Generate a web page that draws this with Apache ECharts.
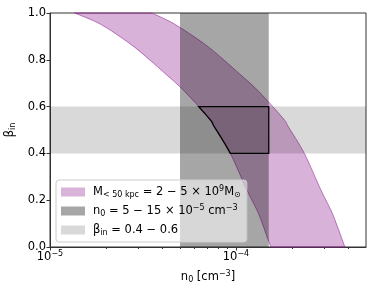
<!DOCTYPE html>
<html><head><meta charset="utf-8">
<script src="https://cdn.jsdelivr.net/npm/echarts@6/dist/echarts.min.js"></script>
<style>html,body{margin:0;padding:0;background:#fff}#c{width:374px;height:290px}</style>
</head><body><div id="c"></div>
<script>
// Lower-mass (2e9) constraint curve: beta_in vs n0
const betaLow = [1.0, 0.952, 0.869, 0.798, 0.738, 0.684, 0.620, 0.6, 0.541, 0.513, 0.4, 0.249, 0.157, 0.114, 0.0];
const nLow = [1.355e-5, 1.87e-5, 2.69e-5, 3.456e-5, 4.204e-5, 5.012e-5, 5.984e-5, 6.304e-5, 7.316e-5, 7.66e-5, 9.318e-5, 1.136e-4, 1.297e-4, 1.365e-4, 1.539e-4];
// Higher-mass (5e9) constraint curve
const betaHigh = [1.0, 0.952, 0.869, 0.798, 0.738, 0.684, 0.620, 0.6, 0.541, 0.513, 0.4, 0.249, 0.157, 0.114, 0.0];
const nHigh = [3.53e-5, 4.68e-5, 6.73e-5, 8.64e-5, 1.051e-4, 1.253e-4, 1.496e-4, 1.576e-4, 1.829e-4, 1.915e-4, 2.33e-4, 2.84e-4, 3.24e-4, 3.41e-4, 3.85e-4];
// Bands
const nBand = [5e-5, 1.5e-4];
const betaBand = [0.4, 0.6];
// Axes
const xRange = [1e-5, 5e-4];
const yRange = [0, 1];
const xMajorTicks = [1e-5, 1e-4];
const xMinorTicks = [2e-5, 3e-5, 4e-5, 5e-5, 6e-5, 7e-5, 8e-5, 9e-5, 2e-4, 3e-4, 4e-4];
const yTicks = [0, 0.2, 0.4, 0.6, 0.8, 1.0];

const FONT = 'DejaVu Sans';
const FS = 11.5;
const legendText = {
  mass: 'M{sub|< 50 kpc} = 2 − 5 × 10{sup|9}M{sub|⊙}',
  dens: 'n{sub|0} = 5 − 15 × 10{sup|−5} cm{sup|−3}',
  beta: 'β{sub|in} = 0.4 − 0.6'
};
const rich = {
  sub: {fontSize: 8, lineHeight: 8, verticalAlign: 'bottom', fontFamily: FONT, color: '#000'},
  sup: {fontSize: 8, lineHeight: 8, verticalAlign: 'top', fontFamily: FONT, color: '#000'}
};

// Smooth path helpers (Catmull-Rom -> cubic Bezier) in pixel space
function bezSegs(px) {
  const segs = [];
  for (let i = 0; i < px.length - 1; i++) {
    const p0 = px[Math.max(i - 1, 0)], p1 = px[i], p2 = px[i + 1], p3 = px[Math.min(i + 2, px.length - 1)];
    segs.push([p1, [p1[0] + (p2[0] - p0[0]) / 6, p1[1] + (p2[1] - p0[1]) / 6],
                   [p2[0] - (p3[0] - p1[0]) / 6, p2[1] - (p3[1] - p1[1]) / 6], p2]);
  }
  return segs;
}
const f = v => v.toFixed(2);
function segsToPath(segs, reverse) {
  let s = '';
  const list = reverse ? segs.slice().reverse().map(g => [g[3], g[2], g[1], g[0]]) : segs;
  list.forEach(g => { s += ' C ' + f(g[1][0]) + ' ' + f(g[1][1]) + ' ' + f(g[2][0]) + ' ' + f(g[2][1]) + ' ' + f(g[3][0]) + ' ' + f(g[3][1]); });
  return s;
}

function customSeries(name, color, z, build) {
  return {
    name: name, type: 'custom', coordinateSystem: 'cartesian2d', z: z,
    data: [[1e-4, 0.5]], encode: {x: 0, y: 1}, silent: true,
    itemStyle: {color: color},
    renderItem: function (params, api) { return build(api); }
  };
}
function rectEl(api, x0, x1, y0, y1, fill) {
  const a = api.coord([x0, y1]), b = api.coord([x1, y0]);
  return {type: 'rect', shape: {x: a[0], y: a[1], width: b[0] - a[0], height: b[1] - a[1]}, style: {fill: fill}};
}

const chart = echarts.init(document.getElementById('c'), null, {renderer: 'canvas'});
chart.setOption({
  animation: false,
  grid: {left: 50, right: 8, top: 13, bottom: 43, show: true, borderColor: '#333', borderWidth: 1,
    backgroundColor: 'transparent', containLabel: false, outerBoundsMode: 'none'},
  legend: {
    orient: 'vertical', left: 56, top: 180, padding: [5, 6, 5, 5], itemGap: 5,
    itemWidth: 24, itemHeight: 9, icon: 'rect',
    backgroundColor: 'rgba(255,255,255,0.55)', borderColor: '#ccc', borderWidth: 1, borderRadius: 3,
    data: [
      {name: 'mass', itemStyle: {color: '#d9b3d9'}},
      {name: 'dens', itemStyle: {color: '#a6a6a6'}},
      {name: 'beta', itemStyle: {color: '#d9d9d9'}}
    ],
    formatter: n => legendText[n],
    textStyle: {fontFamily: FONT, fontSize: FS, color: '#000', lineHeight: 14, padding: [0, 0, 0, 3], rich: rich}
  },
  xAxis: [{
    type: 'log', logBase: 10, min: xRange[0], max: xRange[1],
    name: 'n{sub|0} [cm{sup|−3}]', nameLocation: 'middle', nameGap: 23,
    nameTextStyle: {fontFamily: FONT, fontSize: FS, color: '#000', lineHeight: 14, rich: rich},
    axisLine: {show: true, onZero: false, lineStyle: {color: '#333', width: 1}},
    axisTick: {show: true, length: 3.5, lineStyle: {color: '#333'}, customValues: xMajorTicks},
    axisLabel: {customValues: xMajorTicks, margin: 3, fontFamily: FONT, fontSize: FS, color: '#000', lineHeight: 14,
      formatter: v => '10{sup|' + String(Math.round(Math.log10(v))).replace('-', '−') + '}', rich: rich},
    splitLine: {show: false}
  }, {
    type: 'log', logBase: 10, min: xRange[0], max: xRange[1], position: 'bottom', offset: 0,
    axisLine: {show: false},
    axisTick: {show: true, length: 2, lineStyle: {color: '#333'}, customValues: xMinorTicks},
    axisLabel: {show: false}, splitLine: {show: false}
  }],
  yAxis: {
    type: 'value', min: yRange[0], max: yRange[1], interval: 0.2,
    name: 'β{sub|in}', nameLocation: 'middle', nameGap: 33,
    nameTextStyle: {fontFamily: FONT, fontSize: FS, color: '#000', lineHeight: 14, rich: rich},
    axisLine: {show: true, lineStyle: {color: '#333', width: 1}},
    axisTick: {show: true, length: 3.5, lineStyle: {color: '#333'}, customValues: yTicks},
    axisLabel: {margin: 4, fontFamily: FONT, fontSize: FS, color: '#000', formatter: v => v.toFixed(1)},
    splitLine: {show: false}
  },
  series: [
    customSeries('mass', '#d9b3d9', 1, function (api) {
      const lo = betaLow.map((b, i) => api.coord([nLow[i], b]));
      const hi = betaHigh.map((b, i) => api.coord([nHigh[i], b]));
      const d = 'M ' + f(lo[0][0]) + ' ' + f(lo[0][1]) + segsToPath(bezSegs(lo), false) +
        ' L ' + f(hi[hi.length - 1][0]) + ' ' + f(hi[hi.length - 1][1]) + segsToPath(bezSegs(hi), true) + ' Z';
      return {type: 'path', shape: {pathData: d}, style: {fill: 'rgba(128,0,128,0.3)', stroke: 'rgba(150,40,150,0.6)', lineWidth: 1}};
    }),
    customSeries('dens', '#a6a6a6', 2, api => rectEl(api, nBand[0], nBand[1], yRange[0], yRange[1], 'rgba(0,0,0,0.35)')),
    customSeries('beta', '#d9d9d9', 3, api => rectEl(api, xRange[0], xRange[1], betaBand[0], betaBand[1], 'rgba(0,0,0,0.15)')),
    customSeries('outline', '#000', 4, function (api) {
      const lo = betaLow.map((b, i) => api.coord([nLow[i], b]));
      const i0 = betaLow.indexOf(betaBand[1]), i1 = betaLow.indexOf(betaBand[0]);
      const segs = bezSegs(lo).slice(i0, i1);
      const c1 = api.coord([nBand[1], betaBand[0]]), c2 = api.coord([nBand[1], betaBand[1]]);
      const d = 'M ' + f(lo[i0][0]) + ' ' + f(lo[i0][1]) + segsToPath(segs, false) +
        ' L ' + f(c1[0]) + ' ' + f(c1[1]) + ' L ' + f(c2[0]) + ' ' + f(c2[1]) + ' Z';
      return {type: 'path', shape: {pathData: d}, style: {fill: null, stroke: '#000', lineWidth: 1.3}};
    })
  ]
});
</script></body></html>
